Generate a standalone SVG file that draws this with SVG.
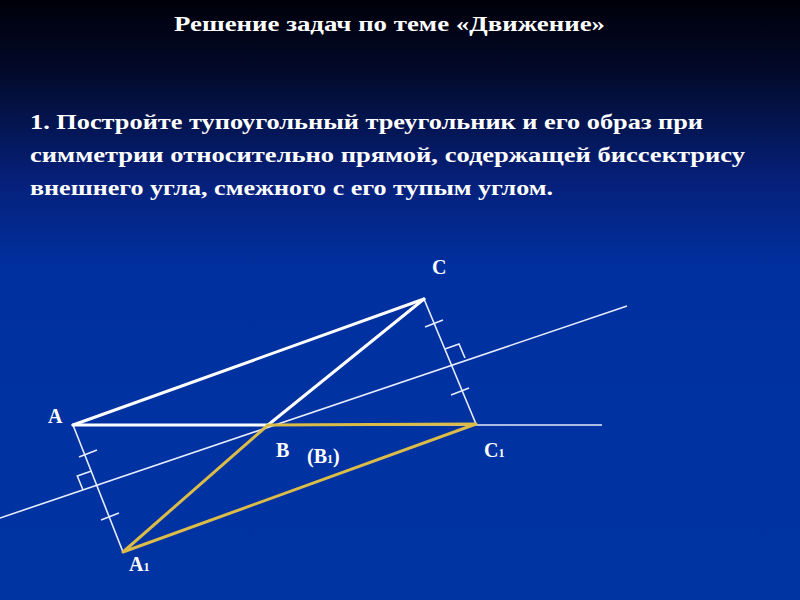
<svg xmlns="http://www.w3.org/2000/svg" width="800" height="600" viewBox="0 0 800 600">
<defs>
<linearGradient id="bg" x1="0" y1="0" x2="0" y2="1">
<stop offset="0" stop-color="#00000a"/>
<stop offset="0.12" stop-color="#020a2a"/>
<stop offset="0.3" stop-color="#06207a"/>
<stop offset="0.45" stop-color="#0030a0"/>
<stop offset="1" stop-color="#0034a2"/>
</linearGradient>
<style>
.t{font-family:"Liberation Serif",serif;font-weight:bold;fill:#ffffff}
.lab{font-family:"Liberation Serif",serif;font-weight:bold;fill:#ffffff;font-size:20px}
.sub{font-size:12px}
.thick{stroke:#ffffff;stroke-width:3;fill:none;stroke-linecap:round}
.thin{stroke:#e8ecff;stroke-width:1.6;fill:none}
.yel{stroke:#dcbc48;stroke-width:3;fill:none;stroke-linecap:round;stroke-linejoin:round}
</style>
</defs>
<rect width="800" height="600" fill="url(#bg)"/>
<text class="t" x="174" y="31" font-size="21" textLength="431" lengthAdjust="spacingAndGlyphs">Решение задач по теме «Движение»</text>
<text class="t" font-size="22" x="30" y="129" textLength="673" lengthAdjust="spacingAndGlyphs">1. Постройте тупоугольный треугольник и его образ при</text>
<text class="t" font-size="22" x="30" y="162" textLength="715" lengthAdjust="spacingAndGlyphs">симметрии относительно прямой, содержащей биссектрису</text>
<text class="t" font-size="22" x="30" y="195" textLength="523" lengthAdjust="spacingAndGlyphs">внешнего угла, смежного с его тупым углом.</text>
<g id="connectors">
<line class="thin" x1="0" y1="518" x2="627" y2="306"/>
<line class="thin" x1="73" y1="425" x2="602" y2="425"/>
<line class="thin" x1="73" y1="425" x2="123" y2="552"/>
<line class="thin" x1="424" y1="299" x2="476" y2="424"/>
<line class="thin" x1="79" y1="457" x2="97" y2="450"/>
<line class="thin" x1="101" y1="520" x2="119" y2="513"/>
<polyline class="thin" points="91.5,471 77.3,476 83,490"/>
<line class="thin" x1="425" y1="327" x2="443" y2="320"/>
<line class="thin" x1="451" y1="395" x2="469" y2="388"/>
<polyline class="thin" points="445,349 459,344 465,358"/>
<line class="thick" x1="73" y1="425" x2="268" y2="425"/>
<line class="thick" x1="73" y1="425" x2="424" y2="299"/>
<line class="thick" x1="268" y1="425" x2="424" y2="299"/>
<polyline class="yel" points="268,425 476,424 123,552 268,425"/>
</g>
<g id="A"><text class="lab" x="48" y="423">A</text></g>
<g id="B"><text class="lab" x="276" y="457">B</text></g>
<g id="B1"><text class="lab" x="307" y="463">(B<tspan class="sub">1</tspan>)</text></g>
<g id="C"><text class="lab" x="432" y="274">C</text></g>
<g id="C1"><text class="lab" x="484" y="457">C<tspan class="sub">1</tspan></text></g>
<g id="A1"><text class="lab" x="129" y="571">A<tspan class="sub">1</tspan></text></g>
</svg>
